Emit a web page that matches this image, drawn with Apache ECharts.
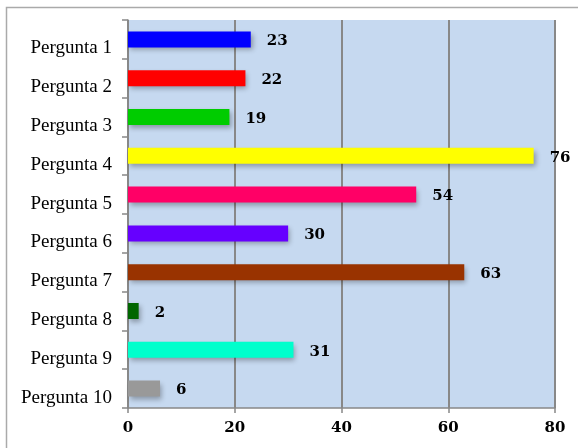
<!DOCTYPE html>
<html>
<head>
<meta charset="utf-8">
<script src="https://cdn.jsdelivr.net/npm/echarts@6/dist/echarts.min.js"></script>
<style>html,body{margin:0;padding:0;background:#fff}#c{width:578px;height:448px}</style>
</head>
<body>
<div id="c"></div>
<script>
var categories = ['Pergunta 1','Pergunta 2','Pergunta 3','Pergunta 4','Pergunta 5','Pergunta 6','Pergunta 7','Pergunta 8','Pergunta 9','Pergunta 10'];
var values = [23, 22, 19, 76, 54, 30, 63, 2, 31, 6];
var colors = ['#0000ff','#ff0000','#00cc00','#ffff00','#ff0066','#6600ff','#993300','#006600','#00ffcc','#999999'];
var xTicks = [0, 20, 40, 60, 80];

var chart = echarts.init(document.getElementById('c'), null, {renderer:'canvas'});
var boldFont = 'DejaVu Serif';
chart.setOption({
  animation: false,
  backgroundColor: '#fff',
  graphic: [{
    type: 'rect', silent: true,
    shape: {x: 6.5, y: 7.5, width: 700, height: 700},
    style: {fill: 'none', stroke: '#aaaaaa', lineWidth: 1.5}
  }],
  grid: {left: 128, right: 23, top: 20, bottom: 40, show: true, backgroundColor: '#c6d9f0', borderWidth: 0},
  xAxis: {
    type: 'value', min: xTicks[0], max: xTicks[xTicks.length-1], interval: 20,
    axisLine: {show: true, lineStyle: {color: '#888', width: 1.5}},
    axisTick: {show: true, length: 5, inside: false, lineStyle: {color: '#888', width: 1.5}},
    splitLine: {show: true, lineStyle: {color: '#888', width: 2}},
    axisLabel: {fontFamily: boldFont, fontWeight: 'bold', fontSize: 15, color: '#000', margin: 13}
  },
  yAxis: {
    type: 'category', data: categories, inverse: true,
    axisLine: {show: true, lineStyle: {color: '#888', width: 1.5}},
    axisTick: {show: true, length: 6, lineStyle: {color: '#888', width: 1.5}},
    axisLabel: {fontFamily: 'Liberation Serif', fontSize: 19, color: '#000', margin: 16, verticalAlign: 'top', lineHeight: 18}
  },
  series: [{
    type: 'bar',
    barWidth: 16,
    data: values.map(function(v, i){ return {value: v, itemStyle: {color: colors[i]}}; }),
    itemStyle: {shadowColor: 'rgba(0,0,0,0.3)', shadowBlur: 5, shadowOffsetX: 2, shadowOffsetY: 3},
    label: {show: true, position: 'right', distance: 16, offset: [0, 2], fontFamily: boldFont, fontWeight: 'bold', fontSize: 15, color: '#000'}
  }]
});
</script>
</body>
</html>
